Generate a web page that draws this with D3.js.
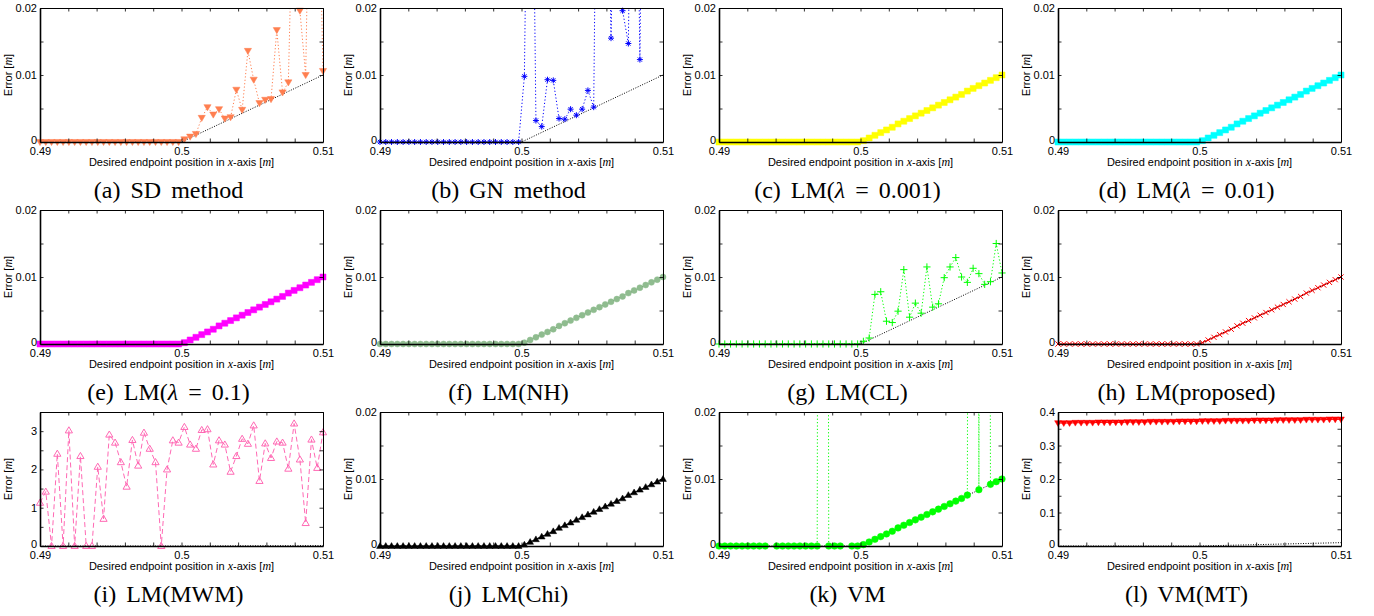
<!DOCTYPE html>
<html>
<head>
<meta charset="utf-8">
<script src="https://cdn.jsdelivr.net/npm/d3@7"></script>
<style>
body { margin: 0; background: #fff; }
svg { display: block; }
</style>
</head>
<body>
<svg width="1374" height="616"></svg>
<script>
'use strict'

// desired endpoint positions (50 samples between 0.49 and 0.51)
const xs = [
    0.490000, 0.490408, 0.490816, 0.491224, 0.491633, 0.492041, 0.492449, 0.492857, 0.493265, 0.493673,
    0.494082, 0.494490, 0.494898, 0.495306, 0.495714, 0.496122, 0.496531, 0.496939, 0.497347, 0.497755,
    0.498163, 0.498571, 0.498980, 0.499388, 0.499796, 0.500204, 0.500612, 0.501020, 0.501429, 0.501837,
    0.502245, 0.502653, 0.503061, 0.503469, 0.503878, 0.504286, 0.504694, 0.505102, 0.505510, 0.505918,
    0.506327, 0.506735, 0.507143, 0.507551, 0.507959, 0.508367, 0.508776, 0.509184, 0.509592, 0.510000
]

// black dotted reference (minimum reachable error)
const refX = [0.49, 0.5, 0.51]
const refY = [0, 0, 0.01]

const sdErr = [
    0, 0, 0, 0, 0, 0, 0, 0, 0, 0, 0, 0, 0, 0, 0, 0, 0, 0, 0, 0, 0, 0, 0, 0, 0,
    0.0004, 0.0008, 0.0012, 0.0036, 0.0052, 0.0041, 0.0049, 0.0035, 0.0037, 0.0078,
    0.0048, 0.0136, 0.0093, 0.0058, 0.0063, 0.0064, 0.0167, 0.0074, 0.0089, 0.045,
    0.0196, 0.0100, 0.06, 0.05, 0.0106
]

const gnErr = [
    0, 0, 0, 0, 0, 0, 0, 0, 0, 0, 0, 0, 0, 0, 0, 0, 0, 0, 0, 0, 0, 0, 0, 0, 0,
    0.0098, 0.08, 0.0032, 0.0023, 0.0093, 0.0092, 0.0035, 0.0034, 0.0049, 0.0040,
    0.0049, 0.0077, 0.0052, 0.09, 0.07, 0.0155, 0.06, 0.0196, 0.0147, 0.08,
    0.0123, 0.09, 0.1, 0.08, 0.1
]

// LM variants that converge to the reference
const convErr = [
    0, 0, 0, 0, 0, 0, 0, 0, 0, 0, 0, 0, 0, 0, 0, 0, 0, 0, 0, 0, 0, 0, 0, 0, 0,
    0.0002, 0.0006, 0.0010, 0.0014, 0.0018, 0.0022, 0.0027, 0.0031, 0.0035, 0.0039,
    0.0043, 0.0047, 0.0051, 0.0055, 0.0059, 0.0063, 0.0067, 0.0071, 0.0076, 0.0080,
    0.0084, 0.0088, 0.0092, 0.0096, 0.0100
]

const clErr = [
    0, 0, 0, 0, 0, 0, 0, 0, 0, 0, 0, 0, 0, 0, 0, 0, 0, 0, 0, 0, 0, 0, 0, 0, 0,
    0.0004, 0.0009, 0.0074, 0.0078, 0.0034, 0.0032, 0.0049, 0.0111, 0.0040, 0.0061,
    0.0046, 0.0115, 0.0055, 0.0060, 0.0099, 0.0115, 0.0129, 0.0100, 0.0092, 0.0113,
    0.0105, 0.0089, 0.0093, 0.0150, 0.0106
]

const mwmErr = [
    1.13, 1.42, 0, 2.41, 0, 3.02, 0, 2.35, 0, 0,
    2.07, 0.71, 2.91, 2.70, 2.19, 1.55, 2.77, 2.10, 2.96, 2.54,
    2.19, 0, 2.00, 2.76, 2.70, 3.11, 2.65, 2.54, 3.03, 3.05,
    2.13, 2.76, 2.65, 1.94, 2.35, 2.80, 2.67, 3.15, 1.70, 2.68,
    2.30, 2.73, 2.70, 2.02, 3.20, 2.26, 0.60, 2.78, 2.04, 2.97
]

const vmErr = [
    0, 0, 0, 0, 0, 0, 0, 0, 0, null, 0, 0, 0, 0, 0, 0, 0, 0, 0.5, 0, 0, 0, null, 0, 0,
    0.0002, 0.0006, 0.0010, 0.0014, 0.0018, 0.0022, 0.0027, 0.0031, 0.0035, 0.0039,
    0.0043, 0.0047, 0.0051, 0.0055, 0.0059, 0.0063, 0.0067, 0.0071, 0.0076, 0.5,
    0.0084, 0.5, 0.0092, 0.0096, 0.0100
]

const vmmtErr = [
    0.367, 0.367, 0.367, 0.368, 0.368, 0.368, 0.368, 0.369, 0.369, 0.369,
    0.369, 0.369, 0.370, 0.370, 0.370, 0.370, 0.371, 0.371, 0.371, 0.371,
    0.371, 0.372, 0.372, 0.372, 0.372, 0.373, 0.373, 0.373, 0.373, 0.374,
    0.374, 0.374, 0.374, 0.374, 0.375, 0.375, 0.375, 0.375, 0.376, 0.376,
    0.376, 0.376, 0.376, 0.377, 0.377, 0.377, 0.377, 0.378, 0.378, 0.378
]

// ticks
const xMinor = [0.49, 0.492, 0.494, 0.496, 0.498, 0.5, 0.502, 0.504, 0.506, 0.508, 0.51]
const xLabels = [0.49, 0.5, 0.51]
const yMinorSmall = [0, 0.005, 0.01, 0.015, 0.02]
const yLabelsSmall = [0, 0.01, 0.02]
const yMinorMwm = [0, 0.5, 1, 1.5, 2, 2.5, 3, 3.5]
const yLabelsMwm = [0, 1, 2, 3]
const yMinorMt = [0, 0.05, 0.1, 0.15, 0.2, 0.25, 0.3, 0.35, 0.4]
const yLabelsMt = [0, 0.1, 0.2, 0.3, 0.4]

const small = { ymax: 0.02, minor: yMinorSmall, labels: yLabelsSmall }

const panels = [
    { cap: [['(a) SD method']], data: sdErr, color: '#ff7f50', mk: 'triDown', ms: 3.6, dash: '1.2,2.2', ...small },
    { cap: [['(b) GN method']], data: gnErr, color: '#0000ff', mk: 'star', ms: 3, dash: '1.2,2.2', ...small },
    { cap: [['(c) LM('], ['λ', 1], [' = 0.001)']], data: convErr, color: '#ffff00', mk: 'square', ms: 3, dash: null, ...small },
    { cap: [['(d) LM('], ['λ', 1], [' = 0.01)']], data: convErr, color: '#00ffff', mk: 'square', ms: 3, dash: null, ...small },
    { cap: [['(e) LM('], ['λ', 1], [' = 0.1)']], data: convErr, color: '#ff00ff', mk: 'square', ms: 3, dash: null, ...small },
    { cap: [['(f) LM(NH)']], data: convErr, color: '#8fbc8f', mk: 'circle', ms: 3, dash: null, ...small },
    { cap: [['(g) LM(CL)']], data: clErr, color: '#00ff00', mk: 'plus', ms: 3.6, dash: '1.2,2.2', ...small },
    { cap: [['(h) LM(proposed)']], data: convErr, color: '#ff0000', mk: 'cross', ms: 2.6, dash: null, ...small },
    { cap: [['(i) LM(MWM)']], data: mwmErr, color: '#ff69b4', mk: 'triOpen', ms: 3.6, dash: '5,3', ymax: 3.5, minor: yMinorMwm, labels: yLabelsMwm },
    { cap: [['(j) LM(Chi)']], data: convErr, color: '#000000', mk: 'triUp', ms: 3.4, dash: null, ...small },
    { cap: [['(k) VM']], data: vmErr, color: '#00ff00', mk: 'circle', ms: 3.3, dash: '1.2,2.2', ...small },
    { cap: [['(l) VM(MT)']], data: vmmtErr, color: '#ff0000', mk: 'triDown', ms: 3.4, dash: null, ymax: 0.4, minor: yMinorMt, labels: yLabelsMt }
]

const cols = [40, 380, 719, 1058]
const rows = [8, 210, 412]
const pw = 283
const ph = 134
const sans = 'Liberation Sans, Arial, sans-serif'
const serif = 'Liberation Serif, Times New Roman, serif'

const markerPath = {
    triDown: s => `M${-s},${-0.7 * s}L${s},${-0.7 * s}L0,${s}Z`,
    triUp: s => `M${-s},${0.7 * s}L${s},${0.7 * s}L0,${-s}Z`,
    triOpen: s => `M${-s},${0.7 * s}L${s},${0.7 * s}L0,${-s}Z`,
    square: s => `M${-s},${-s}h${2 * s}v${2 * s}h${-2 * s}Z`,
    circle: s => d3.symbol(d3.symbolCircle, Math.PI * s * s)(),
    plus: s => `M${-s},0H${s}M0,${-s}V${s}`,
    cross: s => `M${-s},${-s}L${s},${s}M${-s},${s}L${s},${-s}`,
    star: s => `M${-s},0H${s}M0,${-s}V${s}M${-0.7 * s},${-0.7 * s}L${0.7 * s},${0.7 * s}M${-0.7 * s},${0.7 * s}L${0.7 * s},${-0.7 * s}`
}
const stroked = ['plus', 'cross', 'star', 'triOpen']

const svg = d3.select('svg')

function fmtFor(labels) {
    return d => labels.some(v => Math.abs(v - d) < 1e-9) ? String(+d.toFixed(4)) : ''
}

panels.forEach((p, k) => {
    const left = cols[k % 4]
    const top = rows[Math.floor(k / 4)]
    const g = svg.append('g').attr('transform', `translate(${left},${top})`)

    const x = d3.scaleLinear().domain([0.49, 0.51]).range([0, pw])
    const y = d3.scaleLinear().domain([0, p.ymax]).range([ph, 0])

    g.append('clipPath').attr('id', 'clip' + k)
        .append('rect').attr('width', pw).attr('height', ph)
    const plot = g.append('g').attr('clip-path', `url(#clip${k})`)

    const pts = xs.map((v, i) => ({ x: v, y: p.data[i] }))

    plot.append('path')
        .datum(pts)
        .attr('d', d3.line().defined(d => d.y != null).x(d => x(d.x)).y(d => y(d.y)))
        .attr('fill', 'none')
        .attr('stroke', p.color)
        .attr('stroke-width', 1)
        .attr('stroke-dasharray', p.dash)

    // markers are drawn unclipped, like the original
    g.append('g').selectAll('path')
        .data(pts.filter(d => d.y != null && d.y <= p.ymax + 1e-9))
        .join('path')
        .attr('transform', d => `translate(${x(d.x)},${y(d.y)})`)
        .attr('d', markerPath[p.mk](p.ms))
        .attr('fill', stroked.includes(p.mk) ? 'none' : p.color)
        .attr('stroke', p.color)
        .attr('stroke-width', stroked.includes(p.mk) ? 1 : 0.5)

    plot.append('path')
        .datum(refX.map((v, i) => [v, refY[i]]))
        .attr('d', d3.line().x(d => x(d[0])).y(d => y(d[1])))
        .attr('fill', 'none')
        .attr('stroke', '#000')
        .attr('stroke-width', 1)
        .attr('stroke-dasharray', '1,1.5')

    // axes: ticks inside on all four sides
    const bottom = g.append('g').attr('transform', `translate(0,${ph})`)
        .call(d3.axisBottom(x).tickValues(xMinor).tickSize(-3.5).tickSizeOuter(0).tickPadding(5).tickFormat(fmtFor(xLabels)))
    const leftAx = g.append('g')
        .call(d3.axisLeft(y).tickValues(p.minor).tickSize(-3.5).tickSizeOuter(0).tickPadding(3).tickFormat(fmtFor(p.labels)))
    g.append('g')
        .call(d3.axisTop(x).tickValues(xMinor).tickSize(-3.5).tickSizeOuter(0).tickFormat(''))
    g.append('g').attr('transform', `translate(${pw},0)`)
        .call(d3.axisRight(y).tickValues(p.minor).tickSize(-3.5).tickSizeOuter(0).tickFormat(''))

    g.selectAll('.domain').attr('stroke', '#000').attr('stroke-width', 1)
    bottom.select('.domain').attr('stroke-width', 1.6)
    leftAx.select('.domain').attr('stroke-width', 1.6)
    g.selectAll('.tick line').attr('stroke', '#000').attr('stroke-width', 0.8)
    g.selectAll('.tick text').attr('font-family', sans).attr('font-size', 11).attr('fill', '#000')
    // keep the "0" of the y axis clear of the "0.49" below it
    leftAx.selectAll('.tick text').filter(d => d === 0).attr('dy', '0.1em')

    // axis titles
    const xt = g.append('text')
        .attr('x', pw / 2).attr('y', ph + 24)
        .attr('text-anchor', 'middle')
        .attr('font-family', sans).attr('font-size', 11)
    xt.append('tspan').text('Desired endpoint position in ')
    xt.append('tspan').attr('font-family', serif).attr('font-style', 'italic').attr('font-size', 12).text('x')
    xt.append('tspan').text('-axis [')
    xt.append('tspan').attr('font-family', serif).attr('font-style', 'italic').attr('font-size', 12).text('m')
    xt.append('tspan').text(']')

    const yt = g.append('text')
        .attr('transform', `translate(-28,${ph / 2}) rotate(-90)`)
        .attr('text-anchor', 'middle')
        .attr('font-family', sans).attr('font-size', 11)
    yt.append('tspan').text('Error [')
    yt.append('tspan').attr('font-family', serif).attr('font-style', 'italic').attr('font-size', 12).text('m')
    yt.append('tspan').text(']')

    // caption
    const cap = g.append('text')
        .attr('x', pw / 2 - 13).attr('y', 190)
        .attr('text-anchor', 'middle')
        .attr('font-family', serif).attr('font-size', 24)
        .attr('word-spacing', 4)
        .attr('xml:space', 'preserve')
    p.cap.forEach(([t, it]) => {
        cap.append('tspan').attr('font-style', it ? 'italic' : null).text(t)
    })
})
</script>
</body>
</html>
